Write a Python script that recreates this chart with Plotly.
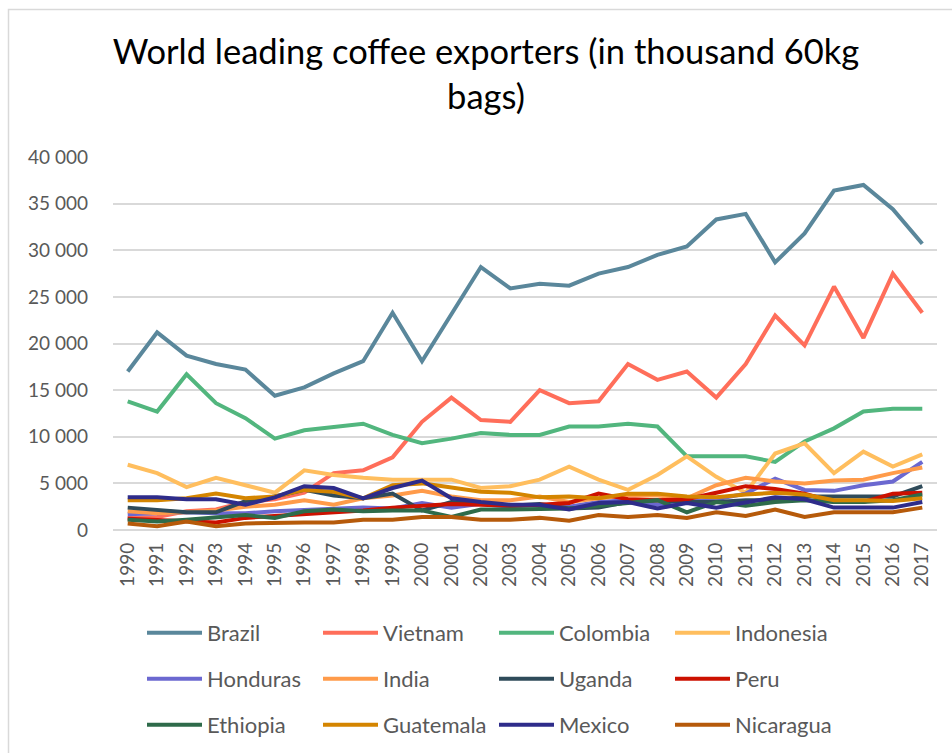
import plotly.graph_objects as go

years = [str(y) for y in range(1990, 2018)]

brazil = [17000, 21200, 18700, 17800, 17200, 14400, 15300, 16800, 18100, 23300, 18100, 23100, 28200, 25900, 26400, 26200, 27500, 28200, 29500, 30400, 33300, 33900, 28700, 31800, 36400, 37000, 34400, 30700]
vietnam = [1300, 1400, 2000, 2200, 3000, 3300, 4000, 6100, 6400, 7800, 11600, 14200, 11800, 11600, 15000, 13600, 13800, 17800, 16100, 17000, 14200, 17800, 23000, 19800, 26100, 20600, 27500, 23300]
colombia = [13800, 12700, 16700, 13600, 12000, 9800, 10700, 11100, 11400, 10200, 9300, 9800, 10400, 10200, 10200, 11100, 11100, 11400, 11100, 7900, 7900, 7900, 7300, 9500, 10900, 12700, 13000, 13000]
indonesia = [7000, 6100, 4600, 5600, 4800, 4000, 6400, 5900, 5600, 5400, 5400, 5400, 4500, 4700, 5400, 6800, 5400, 4300, 5900, 7900, 5700, 4000, 8200, 9300, 6100, 8400, 6800, 8100]
honduras = [1700, 1800, 1900, 1800, 1800, 2000, 2100, 2200, 2400, 2300, 2900, 2400, 2800, 2500, 2700, 2500, 3000, 3200, 2700, 3000, 3300, 3900, 5500, 4300, 4200, 4800, 5200, 7300]
india = [2000, 1800, 1900, 2100, 2500, 2700, 3200, 2700, 3400, 3700, 4200, 3600, 3200, 3200, 3600, 3000, 3400, 3700, 3700, 3400, 4800, 5600, 5200, 5000, 5300, 5400, 6100, 6700]
uganda = [2400, 2100, 1900, 1900, 3100, 3600, 4300, 3700, 3400, 3900, 2100, 3000, 2900, 2600, 2800, 2300, 2400, 3000, 3200, 3000, 3000, 3200, 3200, 3600, 3600, 3600, 3600, 4700]
peru = [1200, 1100, 1000, 800, 1300, 1500, 1700, 1800, 2100, 2400, 2600, 2800, 2700, 2600, 2700, 2900, 3900, 3300, 3200, 3300, 4000, 4700, 4400, 3900, 3000, 3000, 3900, 4000]
ethiopia = [1100, 900, 1100, 1400, 1600, 1300, 2000, 2200, 2000, 2100, 2100, 1400, 2200, 2200, 2200, 2300, 2600, 2900, 3200, 1900, 3000, 2600, 3000, 3200, 3000, 3000, 3200, 3800]
guatemala = [3200, 3200, 3400, 3900, 3400, 3600, 4300, 4100, 3400, 4800, 5000, 4500, 4100, 4000, 3500, 3600, 3400, 3900, 3900, 3600, 3500, 3800, 4000, 3800, 3200, 3200, 3100, 3400]
mexico = [3500, 3500, 3300, 3300, 2700, 3500, 4700, 4500, 3400, 4500, 5300, 3400, 3000, 2700, 2700, 2200, 2900, 3000, 2300, 2900, 2400, 3000, 3500, 3300, 2400, 2400, 2400, 3000]
nicaragua = [700, 400, 900, 400, 700, 800, 800, 800, 1100, 1100, 1400, 1400, 1100, 1100, 1300, 1000, 1600, 1400, 1600, 1300, 1900, 1500, 2200, 1400, 1900, 1900, 1900, 2400]

series = [
    ("Brazil", brazil, "#5A879B", "legend"),
    ("Vietnam", vietnam, "#FF6E5A", "legend"),
    ("Colombia", colombia, "#52B67E", "legend"),
    ("Indonesia", indonesia, "#FFBE5E", "legend"),
    ("Honduras", honduras, "#6B68D0", "legend2"),
    ("India", india, "#FF9B4A", "legend2"),
    ("Uganda", uganda, "#2F4B5A", "legend2"),
    ("Peru", peru, "#CC1100", "legend2"),
    ("Ethiopia", ethiopia, "#2E6B4A", "legend3"),
    ("Guatemala", guatemala, "#D48500", "legend3"),
    ("Mexico", mexico, "#2E2C8A", "legend3"),
    ("Nicaragua", nicaragua, "#B65A0A", "legend3"),
]

fig = go.Figure()
for name, vals, color, lg in series:
    fig.add_trace(go.Scatter(x=years, y=vals, name=name, mode="lines",
                             line=dict(color=color, width=4), legend=lg))

FONT = "Lato"
plot_left, plot_right = 113, 937
plot_top, plot_bot = 157, 530
W = plot_right - plot_left
H = plot_bot - plot_top

def xpaper(px):
    return (px - plot_left) / W

def ypaper(px):
    return (plot_bot - px) / H

leg_common = dict(orientation="h", xanchor="left", yanchor="middle",
                  entrywidth=106, entrywidthmode="pixels", itemwidth=55,
                  font=dict(family=FONT, size=22, color="#595959"),
                  bgcolor="rgba(0,0,0,0)", traceorder="normal")
x_leg = xpaper(142)

# chart-area frame (left and top edges visible in the reference)
border = dict(type="path", xref="paper", yref="paper",
              path=f"M {xpaper(8.5)},{ypaper(760)} L {xpaper(8.5)},{ypaper(9.5)} L {xpaper(960)},{ypaper(9.5)}",
              line=dict(color="#D9D9D9", width=1.5))

fig.update_layout(
    width=952, height=753,
    margin=dict(l=plot_left, r=952 - plot_right, t=plot_top, b=753 - plot_bot, autoexpand=False),
    paper_bgcolor="white", plot_bgcolor="white",
    separators=", ",
    shapes=[border],
    title=dict(text="World leading coffee exporters (in thousand 60kg<br>bags)",
               font=dict(family=FONT, size=34.5, color="#000000"),
               x=xpaper(486), xref="paper", xanchor="center",
               y=1 - 64 / 753, yanchor="top"),
    xaxis=dict(type="category", range=[-0.5, len(years) - 0.5],
               tickangle=-90, showgrid=False, showline=False,
               ticks="", ticklabelstandoff=8,
               tickfont=dict(family=FONT, size=19, color="#595959")),
    yaxis=dict(range=[0, 40000], dtick=5000, tickformat=",d",
               showgrid=True, gridcolor="#D9D9D9", gridwidth=1.5,
               zeroline=True, zerolinecolor="#D9D9D9", zerolinewidth=1.5,
               ticks="", ticklabelstandoff=24,
               tickfont=dict(family=FONT, size=19, color="#595959")),
    legend=dict(x=x_leg, y=ypaper(633), **leg_common),
    legend2=dict(x=x_leg, y=ypaper(679), **leg_common),
    legend3=dict(x=x_leg, y=ypaper(725), **leg_common),
)

fig.write_html("out.html")
